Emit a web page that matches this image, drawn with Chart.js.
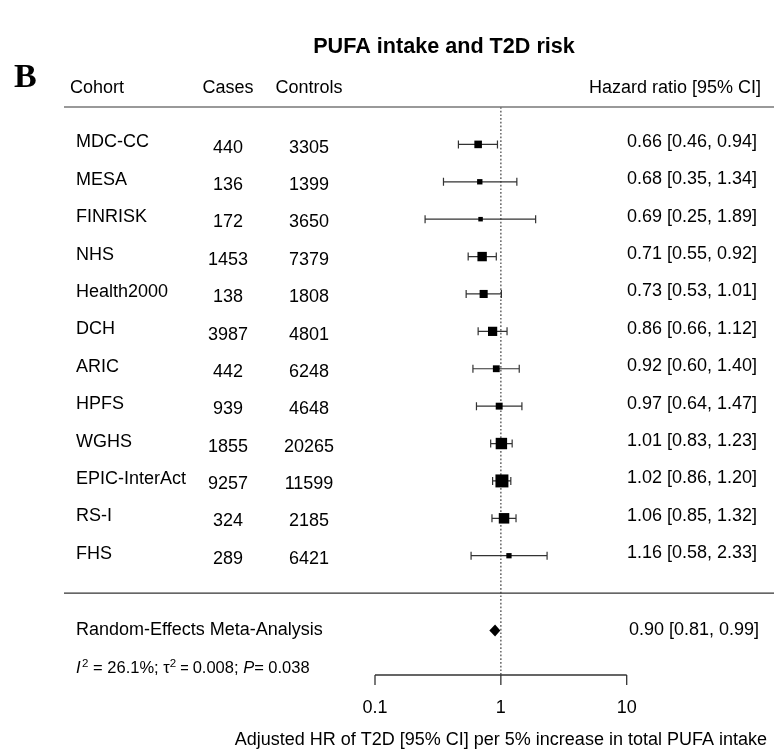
<!DOCTYPE html>
<html><head><meta charset="utf-8">
<script src="https://cdn.jsdelivr.net/npm/chart.js@4.4.0/dist/chart.umd.min.js"></script>
<style>html,body{margin:0;padding:0;background:#fff;}canvas{display:block;}</style>
</head><body>
<canvas id="c" width="774" height="750"></canvas>
<script>
// ---- data ----
const cohorts  = ['MDC-CC','MESA','FINRISK','NHS','Health2000','DCH','ARIC','HPFS','WGHS','EPIC-InterAct','RS-I','FHS'];
const cases    = [440, 136, 172, 1453, 138, 3987, 442, 939, 1855, 9257, 324, 289];
const controls = [3305, 1399, 3650, 7379, 1808, 4801, 6248, 4648, 20265, 11599, 2185, 6421];
const hr       = [0.66, 0.68, 0.69, 0.71, 0.73, 0.86, 0.92, 0.97, 1.01, 1.02, 1.06, 1.16];
const lower    = [0.46, 0.35, 0.25, 0.55, 0.53, 0.66, 0.60, 0.64, 0.83, 0.86, 0.85, 0.58];
const upper    = [0.94, 1.34, 1.89, 0.92, 1.01, 1.12, 1.40, 1.47, 1.23, 1.20, 1.32, 2.33];
const pooledEstimate = [0.90, 0.81, 0.99]; // HR, lower, upper
const heterogeneity = ['26.1%', '0.008', '0.038']; // I^2, tau^2, P
const tickValues = [0.1, 1, 10];
const tickLabels = ['0.1', '1', '10'];
const titleText = 'PUFA intake and T2D risk';
const xLabelText = 'Adjusted HR of T2D [95% CI] per 5% increase in total PUFA intake';
const headerTexts = ['Cohort', 'Cases', 'Controls', 'Hazard ratio [95% CI]'];
const summaryLabel = 'Random-Effects Meta-Analysis';

// ---- layout / style ----
const SANS = '"Liberation Sans", Arial, Helvetica, sans-serif';
const F = (s, w) => (w || '') + ' ' + s + 'px ' + SANS;
const fmt = v => v.toFixed(2);
const ciText = (a, b, c) => fmt(a) + ' [' + fmt(b) + ', ' + fmt(c) + ']';
// box side from precision (1/SE) of each estimate
const boxSide = hr.map((v, i) => {
  const prec = 2 * 1.96 / Math.log(upper[i] / lower[i]);
  return 2.85 + 0.86 * prec;
});

const SUMMARY_ROW = 13, SEP_ROW = 12, STATS_ROW = 14, HEADER_ROW = -1.51;

function txt(ctx, s, x, y, align, font, color) {
  ctx.save();
  ctx.font = font;
  ctx.fillStyle = color || '#000';
  ctx.textAlign = align || 'left';
  ctx.textBaseline = 'middle';
  ctx.fillText(s, x, y);
  ctx.restore();
}
function hline(ctx, x1, x2, y, color, w) {
  ctx.save();
  ctx.strokeStyle = color; ctx.lineWidth = w;
  ctx.beginPath(); ctx.moveTo(x1, y); ctx.lineTo(x2, y); ctx.stroke();
  ctx.restore();
}

const forestPlugin = {
  id: 'forest',
  beforeDatasetsDraw(chart) {
    const ctx = chart.ctx, xs = chart.scales.x, ys = chart.scales.y, ca = chart.chartArea;
    // reference line at HR = 1
    const x1 = xs.getPixelForValue(1);
    ctx.save();
    ctx.strokeStyle = '#666'; ctx.lineWidth = 1.5;
    ctx.setLineDash([1.7, 2]);
    ctx.beginPath(); ctx.moveTo(x1, ca.top); ctx.lineTo(x1, ca.bottom); ctx.stroke();
    ctx.restore();
    // confidence intervals
    ctx.save();
    ctx.strokeStyle = '#333'; ctx.lineWidth = 1.2;
    hr.forEach((v, i) => {
      const y = ys.getPixelForValue(i);
      const a = xs.getPixelForValue(lower[i]);
      const b = xs.getPixelForValue(upper[i]);
      ctx.beginPath();
      ctx.moveTo(a, y); ctx.lineTo(b, y);
      ctx.moveTo(a, y - 4); ctx.lineTo(a, y + 4);
      ctx.moveTo(b, y - 4); ctx.lineTo(b, y + 4);
      ctx.stroke();
    });
    ctx.restore();
  },
  afterDraw(chart) {
    const ctx = chart.ctx, xs = chart.scales.x, ys = chart.scales.y, ca = chart.chartArea;
    // title and panel letter
    txt(ctx, titleText, 444, 47, 'center', F(21.6, 'bold'));
    txt(ctx, 'B', 14, 78, 'left', 'bold 34px "Liberation Serif", "Times New Roman", serif');
    // header
    const hy = ys.getPixelForValue(HEADER_ROW);
    txt(ctx, headerTexts[0], 70, hy, 'left', F(18));
    txt(ctx, headerTexts[1], 228, hy, 'center', F(18));
    txt(ctx, headerTexts[2], 309, hy, 'center', F(18));
    txt(ctx, headerTexts[3], 761, hy, 'right', F(18));
    hline(ctx, 64, 774, ca.top, '#777', 1.7);
    // rows
    cohorts.forEach((name, i) => {
      const y = ys.getPixelForValue(i);
      txt(ctx, name, 76, y - 2, 'left', F(18));
      txt(ctx, String(cases[i]), 228, y + 3.2, 'center', F(18));
      txt(ctx, String(controls[i]), 309, y + 3.2, 'center', F(18));
      txt(ctx, ciText(hr[i], lower[i], upper[i]), 757, y - 2.5, 'right', F(18));
    });
    // separator
    hline(ctx, 64, 774, ys.getPixelForValue(SEP_ROW), '#333', 1.3);
    // summary
    const sy = ys.getPixelForValue(SUMMARY_ROW);
    txt(ctx, summaryLabel, 76, sy, 'left', F(18));
    txt(ctx, ciText(pooledEstimate[0], pooledEstimate[1], pooledEstimate[2]), 759, sy, 'right', F(18));
    const dm = xs.getPixelForValue(pooledEstimate[0]);
    const dl = xs.getPixelForValue(pooledEstimate[1]);
    const dr = xs.getPixelForValue(pooledEstimate[2]);
    ctx.save();
    ctx.fillStyle = '#000';
    ctx.beginPath();
    ctx.moveTo(dl, sy); ctx.lineTo(dm, sy - 6); ctx.lineTo(dr, sy); ctx.lineTo(dm, sy + 6);
    ctx.closePath(); ctx.fill();
    ctx.restore();
    // heterogeneity statistics
    const ty = ys.getPixelForValue(STATS_ROW) - 1;
    const segs = [
      {t: 'I', f: 'italic 16.5px ' + SANS},
      {t: '2', f: '11.5px ' + SANS, up: 6},
      {t: ' = ' + heterogeneity[0] + '; \u03C4', f: '16.5px ' + SANS},
      {t: '2', f: '11.5px ' + SANS, up: 6},
      {t: ' = ', f: '14.5px ' + SANS},
      {t: heterogeneity[1] + '; ', f: '16.5px ' + SANS},
      {t: 'P', f: 'italic 16.5px ' + SANS},
      {t: '= ' + heterogeneity[2], f: '16.5px ' + SANS}
    ];
    let cx = 76;
    ctx.save();
    ctx.fillStyle = '#000'; ctx.textBaseline = 'alphabetic'; ctx.textAlign = 'left';
    segs.forEach(s => {
      ctx.font = s.f;
      ctx.fillText(s.t, cx, ty + 6 - (s.up || 0));
      cx += ctx.measureText(s.t).width + (s.t === 'I' ? 1.5 : 0);
    });
    ctx.restore();
    // x axis
    const ay = ca.bottom;
    const ax1 = xs.getPixelForValue(tickValues[0]);
    const ax2 = xs.getPixelForValue(tickValues[tickValues.length - 1]);
    ctx.save();
    ctx.strokeStyle = '#333'; ctx.lineWidth = 1.3;
    ctx.beginPath();
    ctx.moveTo(ax1, ay); ctx.lineTo(ax2, ay);
    tickValues.forEach(v => {
      const px = xs.getPixelForValue(v);
      ctx.moveTo(px, ay); ctx.lineTo(px, ay + 10);
    });
    ctx.stroke();
    ctx.restore();
    tickValues.forEach((v, i) => {
      txt(ctx, tickLabels[i], xs.getPixelForValue(v), ay + 33, 'center', F(18));
    });
    txt(ctx, xLabelText, xs.getPixelForValue(1), ay + 65, 'center', F(18));
  }
};

new Chart(document.getElementById('c'), {
  type: 'scatter',
  data: {
    datasets: [{
      data: hr.map((v, i) => ({x: v, y: i})),
      pointStyle: 'rect',
      pointRadius: boxSide.map(s => s / Math.SQRT2),
      pointHoverRadius: boxSide.map(s => s / Math.SQRT2),
      backgroundColor: '#000',
      borderWidth: 0,
      clip: false
    }]
  },
  options: {
    responsive: false,
    animation: false,
    devicePixelRatio: 1,
    events: [],
    layout: {padding: {left: 375, right: 147.3, top: 107, bottom: 75}},
    scales: {
      x: {type: 'logarithmic', min: 0.1, max: 10, display: false},
      y: {type: 'linear', min: -1, max: 14.19, reverse: true, display: false}
    },
    plugins: {legend: {display: false}, tooltip: {enabled: false}, title: {display: false}}
  },
  plugins: [forestPlugin]
});
</script>
</body></html>
